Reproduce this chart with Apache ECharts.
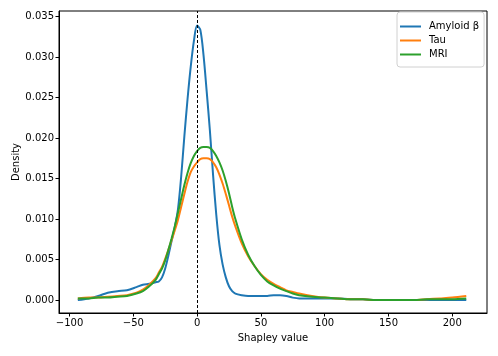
<!DOCTYPE html>
<html>
<head>
<meta charset="utf-8">
<script src="https://cdn.jsdelivr.net/npm/echarts@6/dist/echarts.min.js"></script>
<style>
    html, body { margin: 0; padding: 0; background: #fff; }
    #chart { width: 498px; height: 356px; }
</style>
</head>
<body>
<div id="chart"></div>
<script>
// Shapley values (x) where the densities were read
var shapley = [-93.5, -85, -77.5, -70, -62.5, -55, -47.5, -42.5, -37.5, -32.5, -30, -27.5, -25, -22.5, -20, -17.5, -15, -12.5, -10, -7.5, -5, -2.5, 0, 2.5, 5, 7.5, 10, 12.5, 15, 17.5, 20, 22.5, 25, 27.5, 30, 35, 40, 45, 50, 55, 60, 65, 70, 75, 80, 90, 100, 110, 120, 130, 140, 150, 160, 170, 180, 190, 200, 211];

var amyloid = [0.0000, 0.0002, 0.0005, 0.0009, 0.0011, 0.0012, 0.0016, 0.0019, 0.0020, 0.0022, 0.0023, 0.0028, 0.0039, 0.0055, 0.0073, 0.0090, 0.0112, 0.0152, 0.0202, 0.0248, 0.0288, 0.0320, 0.0339, 0.0334, 0.0303, 0.0258, 0.0210, 0.0155, 0.0106, 0.0068, 0.0044, 0.0028, 0.0017, 0.0011, 0.0008, 0.0006, 0.0005, 0.0005, 0.0005, 0.0005, 0.0006, 0.0006, 0.0005, 0.0003, 0.0002, 0.0002, 0.0002, 0.0002, 0.0001, 0.0001, 0.0000, 0.0000, 0.0000, 0.0000, 0.0000, 0.0000, 0.0000, 0.0000];

var tau = [0.0002, 0.0003, 0.0003, 0.0004, 0.0005, 0.0006, 0.0009, 0.0013, 0.0019, 0.0027, 0.0034, 0.0041, 0.0051, 0.0062, 0.0074, 0.0086, 0.0099, 0.0115, 0.0131, 0.0146, 0.0158, 0.0165, 0.0170, 0.0174, 0.0175, 0.0175, 0.0174, 0.0170, 0.0164, 0.0155, 0.0144, 0.0131, 0.0117, 0.0103, 0.0091, 0.0070, 0.0054, 0.0042, 0.0032, 0.0025, 0.0020, 0.0016, 0.0012, 0.0010, 0.0008, 0.0005, 0.0003, 0.0002, 0.0001, 0.0001, 0.0000, 0.0000, 0.0000, 0.0000, 0.0001, 0.0002, 0.0003, 0.0005];

var mri = [0.0002, 0.0002, 0.0003, 0.0003, 0.0004, 0.0005, 0.0008, 0.0011, 0.0017, 0.0025, 0.0032, 0.0039, 0.0049, 0.0062, 0.0076, 0.0091, 0.0108, 0.0125, 0.0142, 0.0157, 0.0169, 0.0178, 0.0184, 0.0188, 0.0189, 0.0189, 0.0188, 0.0184, 0.0178, 0.0170, 0.0160, 0.0147, 0.0132, 0.0115, 0.0100, 0.0075, 0.0056, 0.0042, 0.0031, 0.0023, 0.0018, 0.0014, 0.0011, 0.0008, 0.0006, 0.0004, 0.0003, 0.0002, 0.0001, 0.0001, 0.0000, 0.0000, 0.0000, 0.0000, 0.0001, 0.0001, 0.0001, 0.0002];

var xTicks = [-100, -50, 0, 50, 100, 150, 200];
var yTicks = [0, 0.005, 0.01, 0.015, 0.02, 0.025, 0.03, 0.035];

var FONT = "DejaVu Sans";

function pairs(ys) {
    return shapley.map(function (x, i) { return [x, ys[i]]; });
}

function lineSeries(name, color, ys) {
    return {
        name: name,
        type: "line",
        data: pairs(ys),
        smooth: 0.3,
        symbol: "none",
        lineStyle: { color: color, width: 2 },
        itemStyle: { color: color }
    };
}

var chart = echarts.init(document.getElementById("chart"), null, { renderer: "canvas" });

var series = [
    lineSeries("Amyloid β", "#1f77b4", amyloid),
    lineSeries("Tau", "#ff7f0e", tau),
    lineSeries("MRI", "#2ca02c", mri)
];
// dashed line at zero
series[0].markLine = {
    silent: true,
    symbol: ["none", "none"],
    label: { show: false },
    lineStyle: { color: "#000", type: [3, 2], width: 1 },
    data: [{ xAxis: 0 }]
};

chart.setOption({
    animation: false,
    textStyle: { fontFamily: FONT },
    grid: {
        left: 59,
        right: 11,
        top: 11,
        bottom: 43,
        outerBoundsMode: "none",
        containLabel: false,
        show: true,
        borderColor: "#000",
        borderWidth: 1,
        backgroundColor: "transparent"
    },
    legend: {
        orient: "vertical",
        left: 397,
        top: 12,
        padding: [9, 5, 7, 3],
        itemGap: 3,
        itemWidth: 21,
        itemHeight: 2,
        icon: "rect",
        borderColor: "#d0d0d0",
        borderWidth: 1,
        borderRadius: 3,
        backgroundColor: "#fff",
        textStyle: { fontFamily: FONT, fontSize: 10, color: "#000", padding: [0, 0, 0, 3], lineHeight: 11 },
        data: ["Amyloid β", "Tau", "MRI"]
    },
    xAxis: {
        type: "value",
        min: -108.25,
        max: 227.25,
        name: "Shapley value",
        nameLocation: "middle",
        nameGap: 20,
        nameTextStyle: { fontFamily: FONT, fontSize: 10, color: "#000" },
        axisLine: { onZero: false, lineStyle: { color: "#000", width: 1 } },
        axisTick: { show: true, length: 3.5, lineStyle: { color: "#000" }, customValues: xTicks },
        axisLabel: {
            customValues: xTicks,
            fontFamily: FONT,
            fontSize: 10,
            color: "#000",
            margin: 5,
            formatter: function (v) { return String(v).replace("-", "\u2212"); }
        },
        splitLine: { show: false }
    },
    yAxis: {
        type: "value",
        min: -0.0016,
        max: 0.0357,
        name: "Density",
        nameLocation: "middle",
        nameGap: 38,
        nameRotate: 90,
        nameMoveOverlap: false,
        nameTextStyle: { fontFamily: FONT, fontSize: 10, color: "#000" },
        axisLine: { show: true, onZero: false, lineStyle: { color: "#000", width: 1 } },
        axisTick: { show: true, length: 3.5, lineStyle: { color: "#000" }, customValues: yTicks },
        axisLabel: {
            customValues: yTicks,
            fontFamily: FONT,
            fontSize: 10,
            color: "#000",
            margin: 5,
            formatter: function (v) { return v.toFixed(3); }
        },
        splitLine: { show: false }
    },
    series: series
});
</script>
</body>
</html>
